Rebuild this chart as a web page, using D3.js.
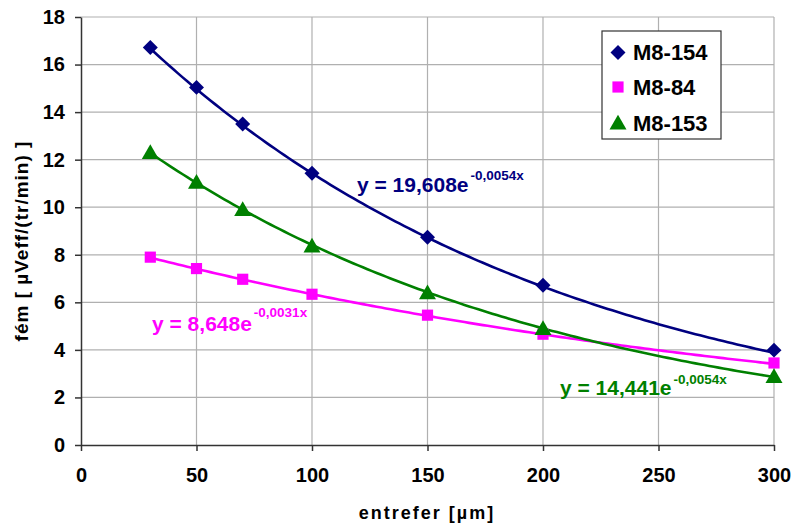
<!DOCTYPE html>
<html><head><meta charset="utf-8">
<script src="https://cdn.jsdelivr.net/npm/d3@7"></script>
<style>body{margin:0;background:#fff}svg{display:block;font-family:"Liberation Sans",Arial,sans-serif}</style>
</head><body><svg id="c" width="793" height="524"></svg>
<script>
const xValues = [30, 50, 70, 100, 150, 200, 300];
const seriesNames = ["M8-154", "M8-84", "M8-153"];
const m8_154 = [16.72, 15.04, 13.5, 11.43, 8.74, 6.72, 3.99];
const m8_84 = [7.9, 7.42, 6.97, 6.34, 5.46, 4.66, 3.45];
const m8_153 = [12.3, 11.05, 9.9, 8.37, 6.4, 4.9, 2.88];
const trendA = [19.608, 8.648, 14.441];
const trendB = [-0.0054, -0.0031, -0.0054];
const trendLabelMain = ["y = 19,608e", "y = 8,648e", "y = 14,441e"];
const trendLabelExp = ["-0,0054x", "-0,0031x", "-0,0054x"];
const xTicks = [0, 50, 100, 150, 200, 250, 300];
const yTicks = [0, 2, 4, 6, 8, 10, 12, 14, 16, 18];
const colors = ["#000080", "#FF00FF", "#008000"];

const svg = d3.select("#c");
const x = d3.scaleLinear().domain([0, 300]).range([81, 774]);
const y = d3.scaleLinear().domain([0, 18]).range([445, 17]);

// marker shapes
const diamond = d3.symbol().type(d3.symbolSquare).size(112);
const square = d3.symbol().type(d3.symbolSquare).size(125);
const triangle = d3.symbol().type(d3.symbolTriangle).size(125);
const shapeFns = [diamond, square, triangle];
const rotations = [45, 0, 0];
const yShift = [0, 0, 1.5];

// grid
svg.append("g").selectAll("line").data(yTicks.slice(1)).join("line")
  .attr("x1", x(0)).attr("x2", x(300)).attr("y1", d => y(d)).attr("y2", d => y(d))
  .attr("stroke", "#b0b0b0").attr("stroke-width", 1.2);
svg.append("g").selectAll("line").data(xTicks.slice(1)).join("line")
  .attr("y1", y(0)).attr("y2", y(18)).attr("x1", d => x(d)).attr("x2", d => x(d))
  .attr("stroke", "#b0b0b0").attr("stroke-width", 1.2);

// axes
const xa = svg.append("g").attr("transform", `translate(0,${y(0)})`)
  .call(d3.axisBottom(x).tickValues(xTicks).tickSize(6).tickPadding(17).tickSizeOuter(0));
const ya = svg.append("g").attr("transform", `translate(${x(0)},0)`)
  .call(d3.axisLeft(y).tickValues(yTicks).tickSize(6).tickPadding(10).tickSizeOuter(0));
[xa, ya].forEach(a => {
  a.selectAll("path, line").attr("stroke", "#333").attr("stroke-width", 1.5);
  a.selectAll("text").attr("font-size", 20).attr("font-weight", "bold").attr("fill", "#000")
    .attr("font-family", "'Liberation Sans', Arial, sans-serif");
});

// axis titles
svg.append("text").attr("x", 427).attr("y", 519).attr("text-anchor", "middle")
  .attr("font-size", 18).attr("font-weight", "bold").attr("letter-spacing", 2).text("entrefer [µm]");
svg.append("text").attr("transform", "translate(28,241) rotate(-90)").attr("text-anchor", "middle")
  .attr("font-size", 19).attr("font-weight", "bold").attr("letter-spacing", 1).text("fém [ µVeff/(tr/min) ]");

// trendlines
const allSeries = [m8_154, m8_84, m8_153];
const xs = d3.range(30, 300.01, 2);
const line = d3.line().x(d => x(d[0])).y(d => y(d[1]));
allSeries.forEach((s, i) => {
  const pts = xs.map(v => [v, trendA[i] * Math.exp(trendB[i] * v)]);
  svg.append("path").attr("d", line(pts)).attr("fill", "none")
    .attr("stroke", colors[i]).attr("stroke-width", 2.6);
});

// markers
allSeries.forEach((s, i) => {
  svg.append("g").selectAll("path").data(s).join("path")
    .attr("d", shapeFns[i]())
    .attr("transform", (d, j) => `translate(${x(xValues[j])},${y(d) + yShift[i]}) rotate(${rotations[i]})`)
    .attr("fill", colors[i]);
});

// equations
const eqPos = [[357, 192], [152, 331], [560, 395]];
const eqSupDy = [-12.5, -14, -11];
trendLabelMain.forEach((t, i) => {
  const tx = svg.append("text").attr("x", eqPos[i][0]).attr("y", eqPos[i][1])
    .attr("fill", colors[i]).attr("font-weight", "bold").attr("font-size", 21);
  tx.append("tspan").text(t);
  tx.append("tspan").attr("dx", 2).attr("dy", eqSupDy[i]).attr("font-size", 13.5).text(trendLabelExp[i]);
});

// legend
const lg = svg.append("g");
lg.append("rect").attr("x", 602).attr("y", 31).attr("width", 119).attr("height", 108)
  .attr("fill", "#fff").attr("stroke", "#333").attr("stroke-width", 1.2);
const ly = [52.5, 87, 124.5];
const lBase = [59.5, 95, 131];
seriesNames.forEach((n, i) => {
  lg.append("path").attr("d", shapeFns[i]())
    .attr("transform", `translate(618,${ly[i]}) rotate(${rotations[i]})`).attr("fill", colors[i]);
  lg.append("text").attr("x", 633).attr("y", lBase[i]).attr("font-size", 22)
    .attr("font-weight", "bold").text(n);
});
</script></body></html>
